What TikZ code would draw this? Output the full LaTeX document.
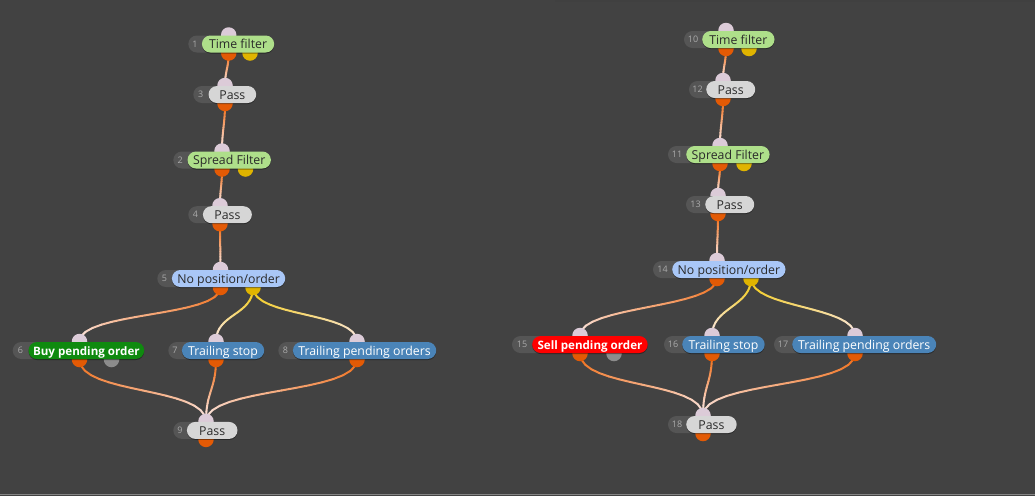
\documentclass[tikz,border=0pt]{standalone}
\usepackage{fontspec}
\setmainfont{Open Sans}
\usetikzlibrary{shadows,calc}
\pgfdeclarelayer{bg}\pgfdeclarelayer{edges}\pgfdeclarelayer{ports}
\pgfsetlayers{bg,edges,ports,main}
\definecolor{bgc}{HTML}{424242}
\definecolor{tabc}{HTML}{555555}
\definecolor{numc}{HTML}{ABABAB}
\definecolor{txtdark}{HTML}{2A2A2A}
\definecolor{greenpill}{HTML}{AEDF8A}
\definecolor{graypill}{HTML}{D6D6D6}
\definecolor{bluepill}{HTML}{A9C7F7}
\definecolor{buygreen}{HTML}{0F8A0F}
\definecolor{steelpill}{HTML}{4A84B8}
\definecolor{sellred}{HTML}{FF0000}
\definecolor{inportc}{HTML}{DCCBD8}
\definecolor{orangeport}{HTML}{E35A05}
\definecolor{yellowport}{HTML}{E0B400}
\definecolor{grayport}{HTML}{8C8C8C}
\definecolor{orangeedge}{HTML}{F06A12}
\definecolor{yellowedge}{HTML}{F2CA10}
\definecolor{edgeend}{HTML}{FAE6E0}
\tikzset{
  pill/.style={rounded corners=8.5pt, minimum height=17pt, inner xsep=0pt, inner ysep=0pt,
    text height=9.4pt, text depth=0pt, font=\fontsize{12.3}{14}\selectfont, text=txtdark,
    general shadow={shadow xshift=0pt, shadow yshift=-1pt, fill=black, opacity=0.4}},
  gp/.style={fill=greenpill},
  pp/.style={fill=graypill},
  bp/.style={fill=bluepill},
  buyp/.style={fill=buygreen, text=white, font=\fontsize{11.6}{13}\selectfont\bfseries},
  sellp/.style={fill=sellred, text=white, font=\fontsize{11.6}{13}\selectfont\bfseries},
  stp/.style={fill=steelpill, text=white},
  numtxt/.style={font=\fontsize{9}{10}\selectfont, text=numc, inner sep=0pt, text height=6.5pt, text depth=0pt},
  port/.style={circle, minimum size=15.5pt, inner sep=0pt},
  inport/.style={port, fill=inportc},
  outport/.style={port, fill=orangeport},
  edgeline/.style={line width=2pt, line cap=round},
}
% name, number, style, label, tab left, pill left, y, width, port x
\newcommand\fnode[9]{%
  \begin{pgfonlayer}{ports}
    \node[inport] (#1-in) at (#9,#7-9) {};
    \node[outport] (#1-out) at (#9,#7+9) {};
  \end{pgfonlayer}
  \fill[tabc, rounded corners=8.5pt] (#5,#7-8.5) rectangle (#6+16,#7+8.5);
  \node[numtxt] (#1-num) at ({(#5+#6)/2},#7) {#2};
  \node[pill,#3,minimum width=#8pt,anchor=west] (#1) at (#6,#7) {#4};
}
% extra output port: name, x, y, colour
\newcommand\xport[4]{%
  \begin{pgfonlayer}{ports}
    \node[port, fill=#4] (#1) at (#2,#3+9) {};
  \end{pgfonlayer}
}
% link: [ctrl], from, to, start colour
\newcommand\link[4][20]{%
  \begin{pgfonlayer}{edges}
  \path (#2.center) .. controls +(0,#1) and +(0,-#1) .. (#3.center)
    \foreach \k in {0,...,16}{coordinate[pos=\k/16] (L\k)};
  \foreach \i in {0,...,15}{%
    \pgfmathtruncatemacro\jnext{\i+1}%
    \pgfmathtruncatemacro\mixv{100-(\i+0.5)*100/16}%
    \draw[edgeline, #4!\mixv!edgeend] (L\i) -- (L\jnext);
  }%
  \end{pgfonlayer}
}
\begin{document}
\begin{tikzpicture}[x=1pt,y=-1pt]
\useasboundingbox (0,0) rectangle (1035,496);
\begin{pgfonlayer}{bg}
  \fill[bgc] (0,0) rectangle (1035,496);
  \draw[line width=1.5pt, color={black!75}] (555,0.75) -- (1035,0.75);
  \draw[line width=1.2pt, color={white!35!bgc}] (0,494.6) -- (1035,494.6);
\end{pgfonlayer}

% left flow
\fnode{n1}{1}{gp}{Time filter}{188.3}{201.7}{44}{72.3}{228.7}
\xport{n1-y}{250}{44}{yellowport}
\fnode{n3}{3}{pp}{Pass}{193.3}{208.3}{94.5}{47.7}{225}
\fnode{n2}{2}{gp}{Spread Filter}{173.3}{187.3}{160}{83.4}{222}
\xport{n2-y}{245.5}{160}{yellowport}
\fnode{n4}{4}{pp}{Pass}{188.3}{202.7}{214.7}{49}{220}
\fnode{n5}{5}{bp}{No position/order}{157.3}{171.7}{278.5}{113.3}{220.5}
\xport{n5-y}{253}{278.5}{yellowport}
\fnode{n6}{6}{buyp}{Buy pending order}{12.7}{28.3}{350.5}{115.7}{79.5}
\xport{n6-g}{111.5}{350.5}{grayport}
\fnode{n7}{7}{stp}{Trailing stop}{168.3}{181.7}{350.5}{82.3}{216}
\fnode{n8}{8}{stp}{Trailing pending orders}{278.3}{292.7}{350.5}{143.3}{357}
\fnode{n9}{9}{pp}{Pass}{173.3}{186.7}{430.4}{50.6}{206}

% right flow
\fnode{n10}{10}{gp}{Time filter}{684}{702}{39.5}{72.3}{726}
\xport{n10-y}{749}{39.5}{yellowport}
\fnode{n12}{12}{pp}{Pass}{689}{706}{89.5}{49}{723}
\fnode{n11}{11}{gp}{Spread Filter}{668}{686}{154.5}{83.4}{720}
\xport{n11-y}{744}{154.5}{yellowport}
\fnode{n13}{13}{pp}{Pass}{686}{705}{204.5}{49}{718}
\fnode{n14}{14}{bp}{No position/order}{653}{672}{269.5}{113.3}{717}
\xport{n14-y}{751}{269.5}{yellowport}
\fnode{n15}{15}{sellp}{Sell pending order}{512}{532}{344.5}{115.5}{580}
\xport{n15-g}{614}{344.5}{grayport}
\fnode{n16}{16}{stp}{Trailing stop}{664}{682}{344.5}{82.5}{712}
\fnode{n17}{17}{stp}{Trailing pending orders}{774}{792}{344.5}{144}{855}
\fnode{n18}{18}{pp}{Pass}{668}{686}{424.5}{50.5}{703}

% left links
\link[14]{n1-out}{n3-in}{orangeedge}
\link[20]{n3-out}{n2-in}{orangeedge}
\link[16]{n2-out}{n4-in}{orangeedge}
\link[20]{n4-out}{n5-in}{orangeedge}
\link[30]{n5-out}{n6-in}{orangeedge}
\link[28]{n5-y}{n7-in}{yellowedge}
\link[30]{n5-y}{n8-in}{yellowedge}
\link[35]{n6-out}{n9-in}{orangeedge}
\link[30]{n7-out}{n9-in}{orangeedge}
\link[35]{n8-out}{n9-in}{orangeedge}

% right links
\link[14]{n10-out}{n12-in}{orangeedge}
\link[20]{n12-out}{n11-in}{orangeedge}
\link[16]{n11-out}{n13-in}{orangeedge}
\link[20]{n13-out}{n14-in}{orangeedge}
\link[30]{n14-out}{n15-in}{orangeedge}
\link[28]{n14-y}{n16-in}{yellowedge}
\link[30]{n14-y}{n17-in}{yellowedge}
\link[35]{n15-out}{n18-in}{orangeedge}
\link[30]{n16-out}{n18-in}{orangeedge}
\link[35]{n17-out}{n18-in}{orangeedge}
\end{tikzpicture}
\end{document}
